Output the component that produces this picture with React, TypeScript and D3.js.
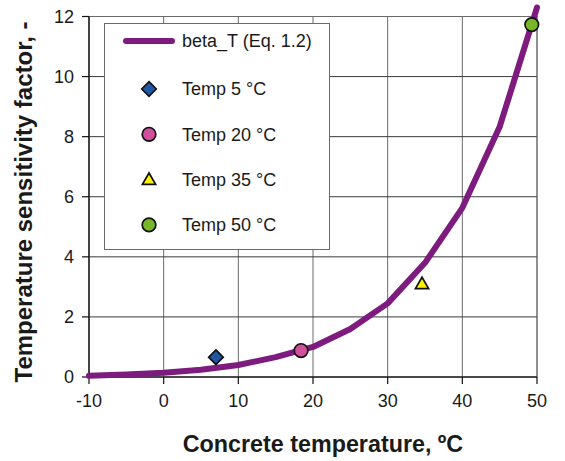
import React from "react";
import * as d3 from "d3";

const curveTemps = [-10, -5, 0, 5, 10, 15, 20, 25, 30, 35, 40, 45, 50];
const curveBeta = [0.04, 0.08, 0.14, 0.24, 0.4, 0.66, 1.0, 1.6, 2.45, 3.8, 5.63, 8.33, 12.3];

const pointLabels = ["Temp 5 °C", "Temp 20 °C", "Temp 35 °C", "Temp 50 °C"];
const pointTemps = [7.0, 18.4, 34.6, 49.3];
const pointBeta = [0.66, 0.88, 3.1, 11.73];
const pointShapes = ["diamond", "circle", "triangle", "circle"];
const pointColors = ["#1f57a4", "#d24f9b", "#fff200", "#78b828"];

const xTicks = [-10, 0, 10, 20, 30, 40, 50];
const yTicks = [0, 2, 4, 6, 8, 10, 12];

const lineLabel = "beta_T (Eq. 1.2)";
const xTitle = "Concrete temperature, ºC";
const yTitle = "Temperature sensitivity factor, -";

const W = 565, H = 461;
const FONT = "'Liberation Sans', Arial, sans-serif";
const PURPLE = "#7e1b7e";

function marker(shape: string, cx: number, cy: number, fill: string, key?: string) {
  if (shape === "diamond") {
    const sym = d3.symbol().type(d3.symbolDiamond2).size(135)();
    return <path key={key} d={sym || ""} transform={`translate(${cx},${cy})`} fill={fill} stroke="#111" strokeWidth={1.7} />;
  }
  if (shape === "triangle") {
    const sym = d3.symbol().type(d3.symbolTriangle2).size(125)();
    return <path key={key} d={sym || ""} transform={`translate(${cx},${cy + 1})`} fill={fill} stroke="#111" strokeWidth={1.7} strokeLinejoin="miter" />;
  }
  return <circle key={key} cx={cx} cy={cy} r={6.8} fill={fill} stroke="#111" strokeWidth={1.7} />;
}

export default function App() {
  const x = d3.scaleLinear().domain([-10, 50]).range([89, 537]);
  const y = d3.scaleLinear().domain([0, 12]).range([377, 16.5]);
  const line = d3.line<number>().x((_, i) => x(curveTemps[i])).y((d) => y(d));
  const [x0, x1] = x.range();
  const [y0, y1] = y.range();

  return (
    <svg width={W} height={H} style={{ position: "absolute", left: 0, top: 0, fontFamily: FONT }}>
      <rect width={W} height={H} fill="#fff" />
      {xTicks.map((t) => (
        <line key={"gx" + t} x1={x(t)} x2={x(t)} y1={y1} y2={y0} stroke="#6a6a6a" strokeWidth={1} />
      ))}
      {yTicks.map((t) => (
        <line key={"gy" + t} x1={x0} x2={x1} y1={y(t)} y2={y(t)} stroke="#3a3a3a" strokeWidth={1} />
      ))}
      <rect x={x0} y={y1} width={x1 - x0} height={y0 - y1} fill="none" stroke="#6a6a6a" strokeWidth={1} />
      <line x1={x0} x2={x0} y1={y1} y2={y0} stroke="#111" strokeWidth={1.2} />
      <line x1={x0} x2={x1} y1={y0} y2={y0} stroke="#111" strokeWidth={1.2} />
      {yTicks.map((t) => (
        <g key={"yt" + t}>
          <line x1={x0 - 7} x2={x0} y1={y(t)} y2={y(t)} stroke="#111" strokeWidth={1.2} />
          <text x={74} y={y(t)} dy="0.35em" textAnchor="end" fontSize={18} fill="#1a1a1a">{t}</text>
        </g>
      ))}
      {xTicks.map((t) => (
        <g key={"xt" + t}>
          <line x1={x(t)} x2={x(t)} y1={y0} y2={y0 + 7} stroke="#111" strokeWidth={1.2} />
          <text x={x(t)} y={401} dy="0.35em" textAnchor="middle" fontSize={18} fill="#1a1a1a">{t}</text>
        </g>
      ))}
      <rect x={104.5} y={23.5} width={225} height={226} fill="#fff" stroke="#6a6a6a" strokeWidth={1} />
      <line x1={126} x2={172} y1={41} y2={41} stroke={PURPLE} strokeWidth={6} strokeLinecap="round" />
      <text x={182} y={41} dy="0.35em" fontSize={18} fill="#1a1a1a">{lineLabel}</text>
      {pointLabels.map((lab, i) => {
        const ry = 89 + i * 45.3;
        return (
          <g key={"lg" + i}>
            {marker(pointShapes[i], 149, ry, pointColors[i])}
            <text x={182} y={ry} dy="0.35em" fontSize={18} fill="#1a1a1a">{lab}</text>
          </g>
        );
      })}
      <path d={line(curveBeta) || ""} fill="none" stroke={PURPLE} strokeWidth={6} strokeLinejoin="round" strokeLinecap="round" />
      {pointTemps.map((t, i) => marker(pointShapes[i], x(t), y(pointBeta[i]), pointColors[i], "p" + i))}
      <text x={323} y={452} textAnchor="middle" fontSize={23.3} fontWeight="bold" fill="#1a1a1a">{xTitle}</text>
      <text transform={`translate(32,202) rotate(-90)`} textAnchor="middle" fontSize={24} fontWeight="bold" fill="#1a1a1a">{yTitle}</text>
    </svg>
  );
}
